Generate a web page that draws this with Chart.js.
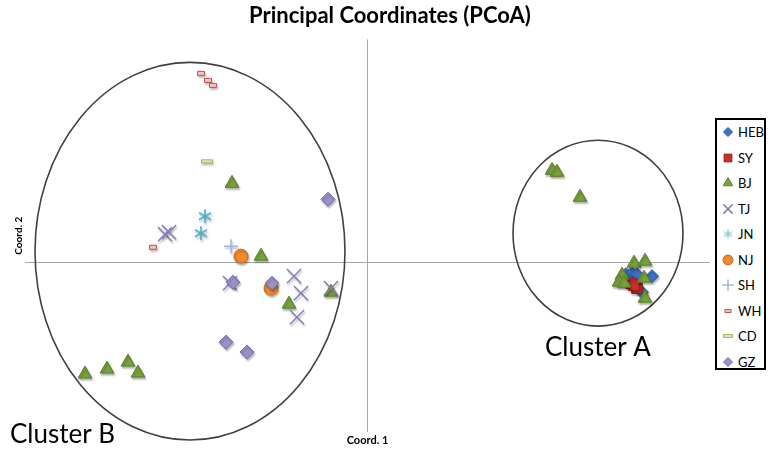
<!DOCTYPE html>
<html>
<head>
<meta charset="utf-8">
<script src="https://cdn.jsdelivr.net/npm/chart.js@4.4.1/dist/chart.umd.min.js"></script>
<style>
  html, body { margin: 0; padding: 0; background: #fff; }
  #wrap { position: relative; width: 772px; height: 451px; }
  #legend { position: absolute; left: 715px; top: 118px; width: 51px; height: 252px;
            border: 2px solid #000; box-sizing: border-box; background: #fff; }
  .row { position: absolute; left: 0; height: 16px; width: 100%; }
  .row canvas { position: absolute; left: 4px; top: 1px; }
  .row span { position: absolute; left: 21px; top: 0; font: 13px Lato, "Open Sans", sans-serif;
              line-height: 16px; color: #000; }
</style>
</head>
<body>
<div id="wrap">
  <canvas id="c" width="772" height="451"></canvas>
  <div id="legend"></div>
</div>
<script>
// ---- Data (coordinates) ----
const categories = ['HEB', 'SY', 'BJ', 'TJ', 'JN', 'NJ', 'SH', 'WH', 'CD', 'GZ'];

const HEB_x = [0.259, 0.265, 0.270, 0.285, 0.275, 0.261];
const HEB_y = [-0.012, -0.011, -0.012, -0.014, -0.030, -0.018];

const SY_x = [0.264, 0.270, 0.267];
const SY_y = [-0.021, -0.026, -0.023];

const BJ_x = [0.185, 0.190, 0.213, 0.267, 0.278, 0.255, 0.252, 0.257, 0.277, 0.278,
              -0.135, -0.106, -0.036, -0.078, -0.282, -0.260, -0.239, -0.229];
const BJ_y = [0.092, 0.090, 0.065, -0.001, 0.001, -0.013, -0.020, -0.021, -0.016, -0.036,
              0.079, 0.006, -0.030, -0.042, -0.112, -0.107, -0.100, -0.111];

const TJ_x = [-0.202, -0.198, -0.137, -0.073, -0.066, -0.036, -0.070];
const TJ_y = [0.028, 0.030, -0.021, -0.014, -0.031, -0.026, -0.055];

const JN_x = [-0.162, -0.166];
const JN_y = [0.046, 0.029];

const NJ_x = [-0.126, -0.096];
const NJ_y = [0.006, -0.026];

const SH_x = [-0.136];
const SH_y = [0.016];

const WH_x = [-0.166, -0.159, -0.154, -0.214];
const WH_y = [0.189, 0.182, 0.177, 0.015];

const CD_x = [-0.160];
const CD_y = [0.101];

const GZ_x = [-0.039, -0.134, -0.095, -0.141, -0.120];
const GZ_y = [0.063, -0.020, -0.021, -0.080, -0.090];

// Cluster ellipses (data units)
const clusterNames = ['Cluster A', 'Cluster B'];
const ellipseCX = [0.231, -0.177];
const ellipseCY = [0.029, 0.011];
const ellipseRX = [0.085, 0.155];
const ellipseRY = [0.093, 0.189];
const clusterLabelX = [0.178, -0.357];
const clusterLabelY = [-0.086, -0.173];

// ---- Custom marker images ----
function makeAsterisk(size, color, lw) {
  const c = document.createElement('canvas');
  c.width = size; c.height = size;
  const g = c.getContext('2d');
  g.strokeStyle = color; g.lineWidth = lw;
  const r = size / 2 - 1, m = size / 2;
  [90, 30, 150].forEach(a => {
    const t = a * Math.PI / 180;
    g.beginPath();
    g.moveTo(m - r * Math.cos(t), m - r * Math.sin(t));
    g.lineTo(m + r * Math.cos(t), m + r * Math.sin(t));
    g.stroke();
  });
  return c;
}
function makeDash(w, h, fill, stroke) {
  const c = document.createElement('canvas');
  c.width = w + 2; c.height = h + 2;
  const g = c.getContext('2d');
  g.fillStyle = fill; g.strokeStyle = stroke; g.lineWidth = 1;
  g.beginPath();
  g.rect(1.5, 1.5, w - 1, h - 1);
  g.fill(); g.stroke();
  return c;
}

const seriesX = [HEB_x, SY_x, BJ_x, TJ_x, JN_x, NJ_x, SH_x, WH_x, CD_x, GZ_x];
const seriesY = [HEB_y, SY_y, BJ_y, TJ_y, JN_y, NJ_y, SH_y, WH_y, CD_y, GZ_y];

const styles = [
  { pointStyle: 'rectRot', backgroundColor: '#3d73c5', borderColor: '#2a5599', radius: 6.5, borderWidth: 1, legendRadius: 4.5 },
  { pointStyle: 'rect', backgroundColor: '#c9302c', borderColor: '#962020', radius: 7.5, borderWidth: 1, legendRadius: 5.5 },
  { pointStyle: 'triangle', backgroundColor: '#78a23d', borderColor: '#5c7f2c', radius: 8, borderWidth: 1, legendRadius: 5.5 },
  { pointStyle: 'crossRot', backgroundColor: '#8a7cb9', borderColor: '#8a7cb9', radius: 10, borderWidth: 1.5, legendRadius: 6.5 },
  { pointStyle: makeAsterisk(16, '#4bacc6', 1.6), legendStyle: makeAsterisk(11, '#7cc3d6', 1.2), backgroundColor: '#4bacc6', borderColor: '#4bacc6', radius: 7, borderWidth: 1.5, legendRadius: 5 },
  { pointStyle: 'circle', backgroundColor: '#f08a2c', borderColor: '#c8661a', radius: 7, borderWidth: 1, legendRadius: 5 },
  { pointStyle: 'cross', backgroundColor: '#9fb6d8', borderColor: '#9fb6d8', radius: 7, borderWidth: 1.5, legendRadius: 5.5 },
  { pointStyle: makeDash(8, 5, '#efc4c4', '#c0504d'), legendStyle: makeDash(7, 4, '#efc4c4', '#c0504d'), backgroundColor: '#efc4c4', borderColor: '#c0504d', radius: 5, borderWidth: 1, legendRadius: 4 },
  { pointStyle: makeDash(12, 4, '#dbe7c4', '#9bbb59'), legendStyle: makeDash(10, 4, '#dbe7c4', '#9bbb59'), backgroundColor: '#dbe7c4', borderColor: '#9bbb59', radius: 6, borderWidth: 1, legendRadius: 5 },
  { pointStyle: 'rectRot', backgroundColor: '#9b8fc8', borderColor: '#7a6cad', radius: 7, borderWidth: 1, legendRadius: 4.5 }
];

const datasets = categories.map((name, i) => ({
  label: name,
  data: seriesX[i].map((x, j) => ({ x: x, y: seriesY[i][j] })),
  order: categories.length - i,
  pointStyle: styles[i].pointStyle,
  backgroundColor: styles[i].backgroundColor,
  borderColor: styles[i].borderColor,
  pointRadius: styles[i].radius,
  pointBorderWidth: styles[i].borderWidth,
  pointHoverRadius: styles[i].radius
}));

Chart.defaults.font.family = 'Lato, "Open Sans", sans-serif';
Chart.defaults.color = '#000';

const decorPlugin = {
  id: 'decor',
  beforeDatasetsDraw(chart) {
    const { ctx, chartArea: a, scales: { x, y } } = chart;
    ctx.save();
    // axis lines through origin
    ctx.strokeStyle = '#a6a6a6';
    ctx.lineWidth = 1;
    ctx.beginPath();
    const y0 = Math.round(y.getPixelForValue(0)) + 0.5;
    const x0 = Math.round(x.getPixelForValue(0)) + 0.5;
    ctx.moveTo(a.left, y0); ctx.lineTo(a.right, y0);
    ctx.moveTo(x0, a.top); ctx.lineTo(x0, a.bottom);
    ctx.stroke();
    // cluster ellipses
    ctx.strokeStyle = '#404040';
    ctx.lineWidth = 1.6;
    for (let i = 0; i < clusterNames.length; i++) {
      const cx = x.getPixelForValue(ellipseCX[i]);
      const cy = y.getPixelForValue(ellipseCY[i]);
      const rx = x.getPixelForValue(ellipseCX[i] + ellipseRX[i]) - cx;
      const ry = cy - y.getPixelForValue(ellipseCY[i] + ellipseRY[i]);
      ctx.beginPath();
      ctx.ellipse(cx, cy, rx, ry, 0, 0, Math.PI * 2);
      ctx.stroke();
    }
    // cluster labels
    ctx.fillStyle = '#000';
    ctx.font = '26px Lato, "Open Sans", sans-serif';
    ctx.textBaseline = 'middle';
    ctx.textAlign = 'left';
    for (let i = 0; i < clusterNames.length; i++) {
      ctx.fillText(clusterNames[i], x.getPixelForValue(clusterLabelX[i]), y.getPixelForValue(clusterLabelY[i]));
    }
    ctx.restore();
    // soft shadow for markers
    ctx.save();
    ctx.shadowColor = 'rgba(0,0,0,0.28)';
    ctx.shadowBlur = 2;
    ctx.shadowOffsetX = 1;
    ctx.shadowOffsetY = 2;
  },
  afterDatasetsDraw(chart) {
    chart.ctx.restore();
  }
};

const chart = new Chart(document.getElementById('c'), {
  type: 'scatter',
  data: { datasets: datasets },
  options: {
    responsive: false,
    animation: false,
    events: [],
    layout: { padding: { left: 8, right: 0, top: 0, bottom: 0 } },
    plugins: {
      legend: { display: false },
      tooltip: { enabled: false },
      title: {
        display: true,
        text: 'Principal Coordinates (PCoA)',
        font: { size: 22, weight: 'bold' },
        color: '#000',
        padding: { top: 3, bottom: 10 }
      }
    },
    scales: {
      x: {
        type: 'linear', min: -0.342, max: 0.343,
        ticks: { display: false }, grid: { display: false }, border: { display: false },
        title: { display: true, text: 'Coord. 1', font: { size: 11, weight: 'bold' }, padding: { top: 0, bottom: 4 } },
        afterFit(s) { s.height = 19; }
      },
      y: {
        type: 'linear', position: 'left', min: -0.170, max: 0.223,
        ticks: { display: false }, grid: { display: false }, border: { display: false },
        title: { display: true, text: 'Coord. 2', font: { size: 10, weight: 'bold' }, padding: { top: 5, bottom: 0 } },
        afterFit(s) { s.width = 17; }
      },
      y2: {
        type: 'linear', position: 'right', min: 0, max: 1,
        ticks: { display: false }, grid: { display: false }, border: { display: false },
        afterFit(s) { s.width = 62; }
      }
    }
  },
  plugins: [decorPlugin]
});

// ---- Legend (HTML, built from the datasets) ----
const legendEl = document.getElementById('legend');
categories.forEach((name, i) => {
  const row = document.createElement('div');
  row.className = 'row';
  row.style.top = (4 + i * 25.5) + 'px';
  const cv = document.createElement('canvas');
  cv.width = 14; cv.height = 14;
  const g = cv.getContext('2d');
  g.fillStyle = styles[i].backgroundColor;
  g.strokeStyle = styles[i].borderColor;
  g.lineWidth = styles[i].borderWidth;
  Chart.helpers.drawPoint(g, {
    pointStyle: styles[i].legendStyle || styles[i].pointStyle,
    rotation: 0,
    radius: styles[i].legendRadius,
    borderWidth: styles[i].borderWidth
  }, 7, 7);
  const sp = document.createElement('span');
  sp.textContent = name;
  row.appendChild(cv);
  row.appendChild(sp);
  legendEl.appendChild(row);
});
</script>
</body>
</html>
